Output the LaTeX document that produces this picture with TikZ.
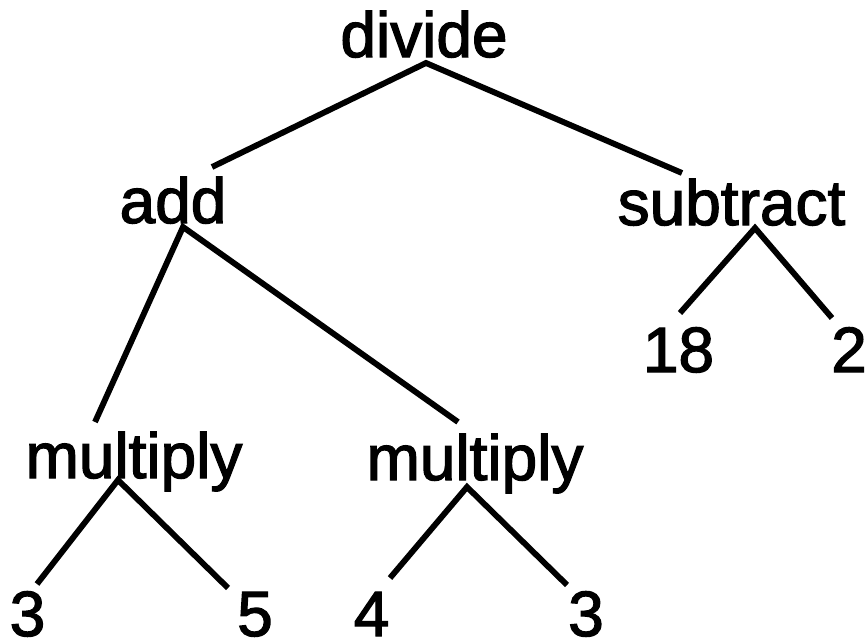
\documentclass[tikz,border=0pt]{standalone}
\usepackage{fontspec}
\setmainfont{Liberation Sans}
\newfontfamily\treefont{Liberation Sans}[BoldFont={Liberation Sans}, BoldFeatures={FakeBold=2}]
\begin{document}
\begin{tikzpicture}[x=0.03cm, y=-0.03cm,
    every node/.style={font=\treefont\bfseries\fontsize{54.6pt}{60pt}\selectfont, inner sep=0pt, anchor=base},
    branch/.style={line width=5pt}]
  \useasboundingbox (0,0) rectangle (867,642);
  % operators
  \node (divide) at (424,57) {divide};
  \node (add) at (173,223) {add};
  \node (sub) at (731.5,225) {subtract};
  \node (mulL) at (134,478) {multiply};
  \node (mulR) at (475,480) {multiply};
  % operands
  \node (n18) at (678.5,372) {18};
  \node (n2) at (849,372) {2};
  \node (n3a) at (27.5,636) {3};
  \node (n5) at (255,636) {5};
  \node (n4) at (371.5,636) {4};
  \node (n3b) at (586,636) {3};
  % branches
  \draw[branch] ([shift={(39,-56)}]add.base) -- ([shift={(2,6)}]divide.base)
    -- ([shift={(-49.5,-52)}]sub.base);
  \draw[branch] ([shift={(-39,-56)}]mulL.base) -- ([shift={(10,4)}]add.base)
    -- ([shift={(-17,-58)}]mulR.base);
  \draw[branch] ([shift={(1.5,-59)}]n18.base) -- ([shift={(23.5,3)}]sub.base)
    -- ([shift={(-17,-54)}]n2.base);
  \draw[branch] ([shift={(9.5,-52)}]n3a.base) -- ([shift={(-16,2)}]mulL.base)
    -- ([shift={(-27,-48)}]n5.base);
  \draw[branch] ([shift={(18.5,-58)}]n4.base) -- ([shift={(-8,7)}]mulR.base)
    -- ([shift={(-19,-51)}]n3b.base);
\end{tikzpicture}
\end{document}
